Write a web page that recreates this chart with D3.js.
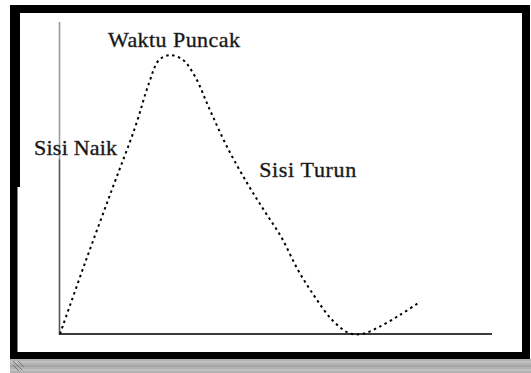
<!DOCTYPE html>
<html>
<head>
<meta charset="utf-8">
<script src="https://d3js.org/d3.v7.min.js"></script>
<style>
  body { margin: 0; background: #fff; }
  svg { display: block; }
</style>
</head>
<body>
<div id="chart"></div>
<script>
// hydrograph: time vs discharge (arbitrary units)
const time      = [0, 5.8, 12.0, 17.4, 20.6, 22.9, 25.5, 28.5, 31.3, 34.7, 38.7, 43.3, 47.2, 51.2, 55.1, 59.0, 63.0, 66.9, 69.9, 73.8, 78.7, 82.9];
const discharge = [0, 22.8, 46.2, 66.3, 80.4, 87.8, 89.4, 87.8, 82.4, 71.8, 59.9, 48.4, 39.7, 31.1, 20.5, 11.9, 4.5, 0.3, 0, 2.2, 6.1, 9.9];

const labelText = ["Waktu Puncak", "Sisi Naik", "Sisi Turun"];
const labelTime = [11.1, -6.0, 46.1];
const labelQ    = [92, 57.4, 50.3];

const W = 531, H = 373;

const svg = d3.select("#chart").append("svg")
    .attr("width", W)
    .attr("height", H);

// frame
svg.append("rect").attr("x", 10).attr("y", 5).attr("width", 520).attr("height", 354).attr("fill", "#000");
svg.append("rect").attr("x", 20).attr("y", 13).attr("width", 502).attr("height", 339).attr("fill", "#fff");
svg.append("rect").attr("x", 17.5).attr("y", 187).attr("width", 3).attr("height", 165).attr("fill", "#fff");

// status-bar like strip at the bottom
svg.append("rect").attr("x", 10).attr("y", 359).attr("width", 521).attr("height", 14).attr("fill", "#b2b2b2");
[362, 366, 370].forEach((y, i) => {
  svg.append("line")
    .attr("x1", 10).attr("x2", 531).attr("y1", y).attr("y2", y)
    .attr("stroke", i % 2 ? "#9a9a9a" : "#cfcfcf").attr("stroke-width", 1.2);
});
svg.append("path")
    .attr("d", "M13,361 L22,370 M13,365 L19,371 M18,361 L24,367")
    .attr("stroke", "#777").attr("stroke-width", 1).attr("fill", "none");

const x = d3.scaleLinear().domain([0, 100]).range([60, 492]);
const y = d3.scaleLinear().domain([0, 100]).range([334, 22]);

// axes (plain lines, no ticks)
svg.append("line")
    .attr("x1", x(0) - 0.5).attr("x2", x(0) - 0.5)
    .attr("y1", y(100)).attr("y2", y(56))
    .attr("stroke", "#9a9a9a").attr("stroke-width", 1.6);
svg.append("line")
    .attr("x1", x(0) - 0.5).attr("x2", x(0) - 0.5)
    .attr("y1", y(56)).attr("y2", y(0) + 1)
    .attr("stroke", "#555").attr("stroke-width", 1.6);
svg.append("line")
    .attr("x1", x(0) - 1).attr("x2", x(100))
    .attr("y1", y(0)).attr("y2", y(0))
    .attr("stroke", "#3a3a3a").attr("stroke-width", 2);

// the curve
const line = d3.line()
    .x((d, i) => x(time[i]))
    .y(d => y(d))
    .curve(d3.curveCatmullRom.alpha(0.5));

svg.append("path")
    .datum(discharge)
    .attr("d", line)
    .attr("fill", "none")
    .attr("stroke", "#000")
    .attr("stroke-width", 2)
    .attr("stroke-dasharray", "2.5,3.5");

// annotations
svg.selectAll("text.lbl")
    .data(labelText)
    .enter().append("text")
    .attr("class", "lbl")
    .attr("x", (d, i) => x(labelTime[i]))
    .attr("y", (d, i) => y(labelQ[i]))
    .attr("font-family", "'Liberation Serif', 'Times New Roman', serif")
    .attr("font-size", 22)
    .attr("fill", "#111")
    .attr("stroke", "#333")
    .attr("stroke-width", 0.4)
    .attr("textLength", (d, i) => [132, 83, 97][i])
    .text(d => d);
</script>
</body>
</html>
